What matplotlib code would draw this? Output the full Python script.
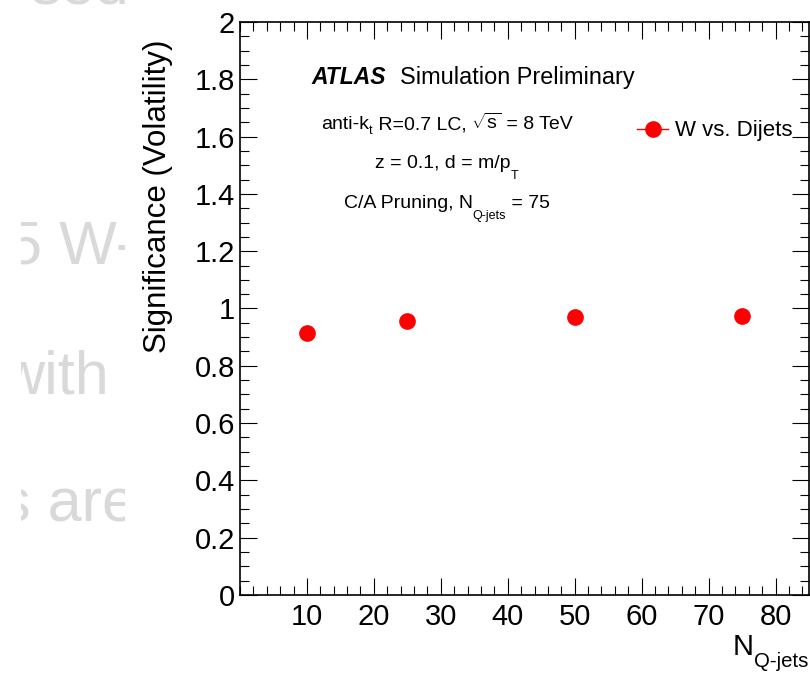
import numpy as np
import matplotlib
matplotlib.use("Agg")
import matplotlib.pyplot as plt
from matplotlib.ticker import MultipleLocator, FuncFormatter
from matplotlib.lines import Line2D
from matplotlib.patches import Rectangle

# values
n_qjets = [10, 25, 50, 75]
significance = [0.915, 0.955, 0.972, 0.974]
x_ticks = [10, 20, 30, 40, 50, 60, 70, 80]
series_label = "W vs. Dijets"

plt.rcParams['font.family'] = ['Liberation Sans', 'DejaVu Sans']
plt.rcParams['mathtext.fontset'] = 'custom'
plt.rcParams['mathtext.rm'] = 'Liberation Sans'
plt.rcParams['mathtext.it'] = 'Liberation Sans:italic'
plt.rcParams['mathtext.bf'] = 'Liberation Sans:bold'

W, H = 810, 684
fig = plt.figure(figsize=(W / 100, H / 100), dpi=100)

# faded slide text peeking out behind the plot
grey = '#d9d9d9'
fig.text(8 / W, 1 - 263 / H, "5 W-", fontsize=44, color=grey, zorder=-2)
fig.text(0 / W, 1 - 393 / H, "with", fontsize=44, color=grey, zorder=-2)
fig.text(0 / W, 1 - 522 / H, "s are", fontsize=44, color=grey, zorder=-2)
fig.text(30 / W, 1 - 3 / H, "sed", fontsize=44, color=grey, zorder=-2)
for left, width in [(0, 20.5), (125, W)]:
    fig.patches.append(Rectangle((left / W, 0), width / W, 1, transform=fig.transFigure,
                                 facecolor='white', edgecolor='none', zorder=-1))

x0, x1, y0, y1 = 240, 809, 22, 595
ax = fig.add_axes([x0 / W, 1 - y1 / H, (x1 - x0) / W, (y1 - y0) / H])

ax.plot(n_qjets, significance, 'o', color='#ff0000', markersize=11, zorder=3)

ax.set_xlim(0, 85)
ax.set_ylim(0, 2)
ax.set_xticks(x_ticks)
ax.xaxis.set_minor_locator(MultipleLocator(2))
ax.yaxis.set_major_locator(MultipleLocator(0.2))
ax.yaxis.set_minor_locator(MultipleLocator(0.05))
ax.yaxis.set_major_formatter(FuncFormatter(lambda v, p: f"{v:g}"))

ax.tick_params(which='both', direction='in', top=True, right=True, width=0.8)
ax.tick_params(which='major', length=12)
ax.tick_params(which='minor', length=6.5)
ax.tick_params(axis='x', labelsize=21, pad=5.5)
ax.tick_params(axis='y', labelsize=21, pad=3.6)
for s in ax.spines.values():
    s.set_linewidth(1.2)

ax.set_ylabel("Significance (Volatility)", fontsize=22.5, ha='right')
ax.yaxis.set_label_coords((173 - x0) / (x1 - x0), (y1 - 40) / (y1 - y0))


def fx(px):
    return (px - x0) / (x1 - x0)


def fy(py):
    return (y1 - py) / (y1 - y0)


def rich_text(x_px, y_px, pieces, ha='center'):
    # ROOT-like text: pieces of (string, size, drop in px below baseline)
    arts = [fig.text(0, 0, s, fontsize=fs, va='baseline') for s, fs, d in pieces]
    r = fig.canvas.get_renderer()
    widths = [a.get_window_extent(r).width for a in arts]
    x = x_px - sum(widths) / 2 if ha == 'center' else x_px - sum(widths)
    for a, w, (s, fs, d) in zip(arts, widths, pieces):
        a.set_position((x / W, 1 - (y_px + d) / H))
        x += w


ax.text(fx(311), fy(84), "ATLAS", fontsize=16.5, fontweight='bold', style='italic',
        transform=ax.transAxes, va='baseline')
ax.text(fx(400), fy(84), "Simulation Preliminary", fontsize=16.9,
        transform=ax.transAxes, va='baseline')

rich_text(447, 129, [("anti-k", 14, 0), ("t", 9, 5), (" R=0.7 LC,", 14, 0),
                     (r" $\sqrt{\mathrm{s}}$", 14, 0), (" = 8 TeV", 14, 0)])
rich_text(447, 168, [("z = 0.1, d = m/p", 14, 0), ("T", 9, 11)])
rich_text(447, 208, [("C/A Pruning, N", 14, 0), ("Q-jets", 9, 11), (" = 75", 14, 0)])

# x axis title, ROOT style at the right end
rich_text(808, 655, [("N", 21, 0), ("Q-jets", 14.7, 12)], ha='right')

handle = Line2D([], [], color='#ff0000', marker='o', markersize=11, lw=1)
ax.legend([handle], [series_label], loc='center left',
          bbox_to_anchor=(fx(637), fy(131)), frameon=False, fontsize=16,
          borderpad=0, borderaxespad=0, handlelength=1.4, handletextpad=0.33)

fig.savefig("out.png", dpi=100)
